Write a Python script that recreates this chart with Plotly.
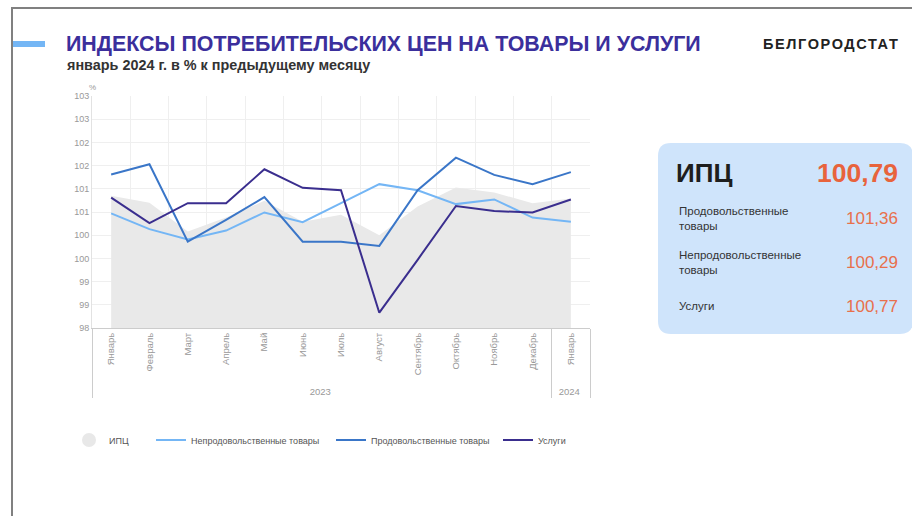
import plotly.graph_objects as go

# ---------------- data ----------------
years = ["2023"] * 12 + ["2024"]
months = ["Январь", "Февраль", "Март", "Апрель", "Май", "Июнь", "Июль",
          "Август", "Сентябрь", "Октябрь", "Ноябрь", "Декабрь", "Январь"]
cpi = [100.85, 100.70, 100.08, 100.38, 100.74, 100.29, 100.44,
       100.00, 100.62, 101.03, 100.92, 100.69, 100.79]
nonfood = [100.47, 100.13, 99.91, 100.10, 100.49, 100.28, 100.69,
           101.10, 100.97, 100.67, 100.77, 100.38, 100.29]
food = [101.31, 101.53, 99.86, 100.33, 100.82, 99.86, 99.86,
        99.77, 100.97, 101.67, 101.30, 101.10, 101.36]
services = [100.81, 100.26, 100.69, 100.69, 101.42, 101.02, 100.97,
            98.33, 99.47, 100.63, 100.52, 100.49, 100.77]
ytick_vals = [98, 98.5, 99, 99.5, 100, 100.5, 101, 101.5, 102, 102.5, 103]
ytick_text = ["98", "99", "99", "100", "100", "101", "101", "102", "102", "103", "103"]

panel_labels = ["Продовольственные<br>товары", "Непродовольственные<br>товары", "Услуги"]
panel_values = ["101,36", "100,29", "100,77"]
panel_main_label = "ИПЦ"
panel_main_value = "100,79"

# ---------------- geometry helpers (pixels -> paper) ----------------
W, H = 912, 516
L, R, T, B = 92, 590, 96, 328


def px(x):
    return (x - L) / (R - L)


def py(y):
    return (B - y) / (B - T)


FONT = "Arial, Liberation Sans, sans-serif"
xcat = [years, months]

fig = go.Figure()

# legend-only marker for CPI
fig.add_trace(go.Scatter(x=[None], y=[None], mode="markers", name="ИПЦ",
                         marker=dict(size=14, color="#e8e8e8"), legend="legend"))
# CPI area
fig.add_trace(go.Scatter(x=xcat, y=cpi, mode="lines", name="ИПЦ",
                         fill="tozeroy", fillcolor="#e9e9e9",
                         line=dict(width=0, color="#e9e9e9"),
                         showlegend=False, hoverinfo="skip"))
fig.add_trace(go.Scatter(x=xcat, y=nonfood, mode="lines",
                         name="Непродовольственные товары",
                         line=dict(color="#74b6f5", width=2), legend="legend2"))
fig.add_trace(go.Scatter(x=xcat, y=food, mode="lines",
                         name="Продовольственные товары",
                         line=dict(color="#3a76c8", width=2), legend="legend3"))
fig.add_trace(go.Scatter(x=xcat, y=services, mode="lines",
                         name="Услуги",
                         line=dict(color="#3a2e8e", width=2), legend="legend4"))

shapes = []
# outer grey frame
shapes.append(dict(type="rect", xref="paper", yref="paper",
                   x0=px(12), x1=px(960), y0=py(8), y1=py(560),
                   line=dict(color="#808080", width=2), fillcolor="rgba(0,0,0,0)",
                   layer="below"))
# blue accent bar
shapes.append(dict(type="rect", xref="paper", yref="paper",
                   x0=px(13), x1=px(45), y0=py(47), y1=py(41),
                   line=dict(width=0), fillcolor="#74b6f5"))
# rounded panel
x0p, x1p, y0p, y1p, r = 658, 913, 143, 334, 13
rx = r / (R - L)
ry = r / (B - T)
X0, X1, Y0, Y1 = px(x0p), px(x1p), py(y1p), py(y0p)
path = (f"M {X0 + rx} {Y1} L {X1 - rx} {Y1} Q {X1} {Y1} {X1} {Y1 - ry} "
        f"L {X1} {Y0 + ry} Q {X1} {Y0} {X1 - rx} {Y0} "
        f"L {X0 + rx} {Y0} Q {X0} {Y0} {X0} {Y0 + ry} "
        f"L {X0} {Y1 - ry} Q {X0} {Y1} {X0 + rx} {Y1} Z")
shapes.append(dict(type="path", xref="paper", yref="paper", path=path,
                   line=dict(width=0), fillcolor="#cfe4fb", layer="below"))


def note(text, x, y, size, color, xanchor="left", align="left"):
    return dict(text=text, xref="paper", yref="paper", x=px(x), y=py(y),
                xanchor=xanchor, yanchor="middle", align=align, showarrow=False,
                font=dict(size=size, color=color, family=FONT))


ann = [
    note("<b>ИНДЕКСЫ ПОТРЕБИТЕЛЬСКИХ ЦЕН НА ТОВАРЫ И УСЛУГИ</b>", 64, 44, 21.4, "#3b2f9c"),
    note("<b>январь 2024 г. в % к предыдущему месяцу</b>", 65, 64.5, 14.4, "#333333"),
    note('<span style="letter-spacing:1.6px"><b>БЕЛГОРОДСТАТ</b></span>', 761, 44, 14.5, "#222222"),
    note("%", 92, 87, 8, "#999999", xanchor="center"),
    note(f"<b>{panel_main_label}</b>", 674, 173, 26, "#1e1e1e"),
    note(f"<b>{panel_main_value}</b>", 900, 173, 26.5, "#e8633c", xanchor="right"),
]
label_y = [218, 262, 306]
for lab, val, yy in zip(panel_labels, panel_values, label_y):
    ann.append(note(lab, 677, yy, 11.5, "#333333"))
    ann.append(note(val, 900, yy, 17, "#e8704c", xanchor="right"))


def leg(xpix):
    return dict(orientation="h", x=px(xpix), y=py(440), xanchor="left", yanchor="middle",
                font=dict(size=9, color="#555555", family=FONT),
                bgcolor="rgba(0,0,0,0)", borderwidth=0)


fig.update_layout(
    template="none",
    width=W, height=H,
    margin=dict(l=L, r=W - R, t=T, b=H - B, pad=0),
    paper_bgcolor="white", plot_bgcolor="white",
    font=dict(family=FONT, color="#555555"),
    shapes=shapes, annotations=ann,
    showlegend=True,
    legend=leg(69), legend2=leg(151), legend3=leg(331), legend4=leg(498),
    xaxis=dict(type="multicategory", tickangle=-90, range=[-0.5, 12.5],
               autorange=False, automargin=False,
               tickfont=dict(size=9.5, color="#999999", family=FONT),
               showgrid=True, gridcolor="#efefef", gridwidth=1,
               showline=True, linecolor="#cccccc", linewidth=1,
               showdividers=True, dividercolor="#cccccc", dividerwidth=1,
               ticks=""),
    yaxis=dict(range=[98, 103], autorange=False, automargin=False,
               tickvals=ytick_vals, ticktext=ytick_text,
               tickfont=dict(size=9, color="#999999", family=FONT),
               showgrid=True, gridcolor="#efefef", gridwidth=1,
               showline=True, linecolor="#e2e2e2", linewidth=1,
               zeroline=False, ticks=""),
)

fig.write_html("out.html", config={"displayModeBar": False},
               post_script="document.body.style.margin='0px';")
